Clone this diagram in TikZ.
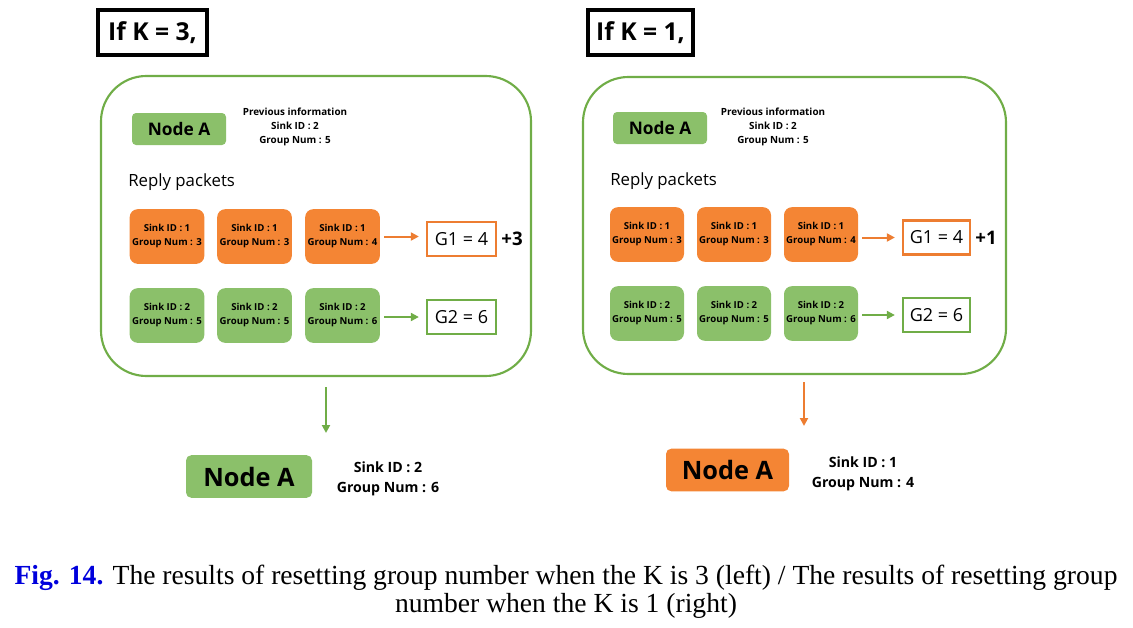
\documentclass[tikz,border=0pt]{standalone}
\usepackage{fontspec}
\setmainfont{Liberation Serif}
\newfontfamily\dfont{Open Sans}
\usetikzlibrary{arrows.meta}
\definecolor{gfill}{RGB}{139,192,106}
\definecolor{gline}{RGB}{112,173,71}
\definecolor{ofill}{RGB}{244,133,52}
\definecolor{oline}{RGB}{237,125,49}
\definecolor{capblue}{RGB}{0,0,220}
\tikzset{
  kbox/.style={draw=black,line width=2.3pt,minimum height=33.75pt,inner sep=0pt,font=\dfont\bfseries\fontsize{18.5}{20}\selectfont},
  panel/.style={draw=gline,line width=1.6pt,rounded corners=34pt,inner sep=0pt},
  nodeasm/.style={fill=gfill,rounded corners=3pt,minimum width=70.5pt,minimum height=24pt,inner sep=0pt,font=\dfont\bfseries\fontsize{13}{15}\selectfont},
  nodeabig/.style={rounded corners=4pt,minimum height=32pt,inner sep=0pt,font=\dfont\bfseries\fontsize{19}{21}\selectfont},
  info/.style={align=center,inner sep=0pt,font=\dfont\bfseries\fontsize{7.4}{10.2}\selectfont},
  binfo/.style={align=center,inner sep=0pt,font=\dfont\bfseries\fontsize{10.6}{15}\selectfont},
  reply/.style={anchor=west,inner sep=0pt,font=\dfont\fontsize{12.6}{14}\selectfont},
  pkt/.style={rounded corners=6pt,minimum width=56pt,minimum height=41pt,inner sep=0pt,align=center,font=\dfont\bfseries\fontsize{7.2}{10.5}\selectfont},
  opkt/.style={pkt,fill=ofill},
  gpkt/.style={pkt,fill=gfill},
  gbox/.style={fill=white,line width=2.2pt,minimum height=25.5pt,inner sep=0pt,font=\dfont\fontsize{13.5}{15}\selectfont},
  plus/.style={inner sep=0pt,font=\dfont\bfseries\fontsize{14}{16}\selectfont},
  arr/.style={line width=1.5pt,-{Triangle[length=6pt,width=6pt]}},
}
\begin{document}
\begin{tikzpicture}[x=0.75pt,y=-0.75pt]
\useasboundingbox (0,0) rectangle (1133,628);

% ===== Left: K = 3 =====
\node[kbox,minimum width=81.75pt] (kL) at (152.5,32.5) {If K = 3,};
\node[panel,minimum width=322.5pt,minimum height=225pt] (panelL) at (316,226) {};
\node[nodeasm] (naL) at (179,129) {Node A};
\node[info] (prevL) at (295,127) {Previous information\\Sink ID : 2\\Group Num : 5};
\node[reply] (replyL) at (128,182) {Reply packets};
\node[opkt] (pL1) at (167,236.5) {Sink ID : 1\\Group Num : 3};
\node[opkt] (pL2) at (254.5,236.5) {Sink ID : 1\\Group Num : 3};
\node[opkt] (pL3) at (342.5,236.5) {Sink ID : 1\\Group Num : 4};
\node[gpkt] (qL1) at (167,315.5) {Sink ID : 2\\Group Num : 5};
\node[gpkt] (qL2) at (254.5,315.5) {Sink ID : 2\\Group Num : 5};
\node[gpkt] (qL3) at (342.5,315.5) {Sink ID : 2\\Group Num : 6};
\node[gbox,draw=oline,minimum width=51.75pt] (g1L) at (461.5,239) {G1 = 4};
\node[gbox,draw=gline,minimum width=51.75pt] (g2L) at (461.5,317) {G2 = 6};
\node[plus] (plusL) at (512,239) {+3};
\draw[arr,draw=oline,fill=oline,shorten <=3pt,shorten >=5pt] (pL3.east) -- (pL3.east -| g1L.west);
\draw[arr,draw=gline,fill=gline,shorten <=3pt,shorten >=5pt] (qL3.east |- g2L.west) -- (g2L.west);
\coordinate (dL1) at (326,387);
\coordinate (dL2) at (326,433);
\draw[arr,draw=gline,fill=gline] (dL1) -- (dL2);
\node[nodeabig,fill=gfill,minimum width=94.5pt] (nbL) at (249,476.5) {Node A};
\node[binfo] (biL) at (388,479) {Sink ID : 2\\Group Num : 6};

% ===== Right: K = 1 =====
\node[kbox,minimum width=78.75pt] (kR) at (640.5,32.5) {If K = 1,};
\node[panel,minimum width=317.25pt,minimum height=222.75pt] (panelR) at (794.5,225.5) {};
\node[nodeasm] (naR) at (660,128) {Node A};
\node[info] (prevR) at (773,127) {Previous information\\Sink ID : 2\\Group Num : 5};
\node[reply] (replyR) at (610,181) {Reply packets};
\node[opkt,minimum width=55.5pt] (pR1) at (647,234.5) {Sink ID : 1\\Group Num : 3};
\node[opkt,minimum width=55.5pt] (pR2) at (734,234.5) {Sink ID : 1\\Group Num : 3};
\node[opkt,minimum width=55.5pt] (pR3) at (821,234.5) {Sink ID : 1\\Group Num : 4};
\node[gpkt,minimum width=55.5pt] (qR1) at (647,313.5) {Sink ID : 2\\Group Num : 5};
\node[gpkt,minimum width=55.5pt] (qR2) at (734,313.5) {Sink ID : 2\\Group Num : 5};
\node[gpkt,minimum width=55.5pt] (qR3) at (821,313.5) {Sink ID : 2\\Group Num : 6};
\node[gbox,draw=oline,minimum width=50.25pt] (g1R) at (936.5,237.5) {G1 = 4};
\node[gbox,draw=gline,minimum width=50.25pt] (g2R) at (936.5,315) {G2 = 6};
\node[plus] (plusR) at (986,238) {+1};
\draw[arr,draw=oline,fill=oline,shorten <=3pt,shorten >=5pt] (pR3.east |- g1R.west) -- (g1R.west);
\draw[arr,draw=gline,fill=gline,shorten <=3pt,shorten >=5pt] (qR3.east |- g2R.west) -- (g2R.west);
\coordinate (dR1) at (804,382);
\coordinate (dR2) at (804,426);
\draw[arr,draw=oline,fill=oline] (dR1) -- (dR2);
\node[nodeabig,fill=ofill,minimum width=92.25pt] (nbR) at (727.5,470) {Node A};
\node[binfo] (biR) at (863,474) {Sink ID : 1\\Group Num : 4};

% ===== Caption =====
\node[align=center,inner sep=0pt,font=\fontsize{20.7}{21}\selectfont] (cap) at (566,592)
  {{\color{capblue}\bfseries Fig. 14.} The results of resetting group number when the K is 3 (left) / The results of resetting group\\number when the K is 1 (right)};
\end{tikzpicture}
\end{document}
